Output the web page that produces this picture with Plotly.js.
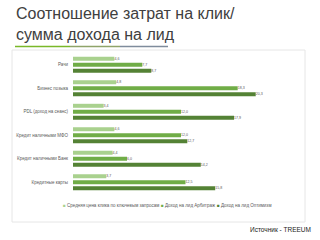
<!DOCTYPE html>
<html><head><meta charset="utf-8">
<script src="https://cdn.plot.ly/plotly-3.0.1.min.js"></script>
<style>html,body{margin:0;padding:0;background:#fff}#c{width:320px;height:240px}</style>
</head><body><div id="c"></div>
<script>
const categories = ["Рачи", "Бизнес позыка", "PDL (доход на сеанс)", "Кредит наличными МФО", "Кредит наличными Банк", "Кредитные карты"];
const seriesNames = ["Средняя цена клика по ключевым запросам", "Доход на лид Арбитраж", "Доход на лид Оптимизм"];
const avgClick = [4.6, 4.8, 3.4, 4.6, 4.4, 3.7];
const leadArb = [7.7, 18.3, 12.0, 12.0, 6.0, 12.5];
const leadOpt = [8.7, 20.3, 17.9, 12.7, 14.2, 15.8];
const colors = ["#a9d18e", "#70ad47", "#548235"];
const fmt = v => v.toFixed(1).replace('.', ',');
const series = [avgClick, leadArb, leadOpt];
const traces = series.map((vals, i) => ({
  type: 'bar', orientation: 'h', name: seriesNames[i],
  y: categories, x: vals,
  marker: {color: colors[i]},
  text: vals.map(fmt), textposition: 'outside', cliponaxis: false,
  textfont: {size: 4.5, color: '#595959', family: 'Liberation Sans'},
  hoverinfo: 'none', showlegend: false
}));
// pixel helpers for decorations
const L = 73, T = 53, W = 216, H = 141;
const px = x => (x - L) / W, py = y => (T + H - y) / H;
const shapes = [
  {type: 'rect', xref: 'paper', yref: 'paper', x0: px(12), x1: px(305), y0: py(50), y1: py(222),
   line: {color: '#e6e6e6', width: 1}, fillcolor: 'rgba(0,0,0,0)', layer: 'below'},
  {type: 'line', xref: 'paper', yref: 'paper', x0: px(15), x1: px(70), y0: py(46.5), y1: py(46.5), line: {color: '#7ab829', width: 1.5}},
  {type: 'line', xref: 'paper', yref: 'paper', x0: px(70), x1: px(120), y0: py(46.5), y1: py(46.5), line: {color: '#8fa46a', width: 1.5}},
  {type: 'line', xref: 'paper', yref: 'paper', x0: px(120), x1: px(168), y0: py(46.5), y1: py(46.5), line: {color: '#7f8c9c', width: 1.5}}
];
const legendX = [61, 159, 215];
const legendAnn = seriesNames.map((n, i) => ({
  xref: 'paper', yref: 'paper', x: px(legendX[i]), y: py(205), xanchor: 'left', yanchor: 'middle',
  showarrow: false, text: '<span style="color:' + colors[i] + '">■</span> ' + n,
  font: {size: 4.5, color: '#595959', family: 'Liberation Sans'}
}));
const layout = {
  width: 320, height: 240,
  margin: {l: L, r: 320 - L - W, t: T, b: 240 - T - H},
  paper_bgcolor: '#ffffff', plot_bgcolor: 'rgba(0,0,0,0)',
  font: {family: 'Liberation Sans', color: '#595959'},
  barmode: 'group', bargap: 0.24, bargroupgap: 0.33,
  showlegend: false,
  xaxis: {range: [0, 24], showgrid: false, zeroline: false, showticklabels: false, showline: false, fixedrange: true},
  yaxis: {autorange: 'reversed', showgrid: false, zeroline: false, showline: false, ticks: '',
    tickfont: {size: 4.5, color: '#595959'}, ticklabelstandoff: 4},
  shapes: shapes,
  annotations: [
    {xref: 'paper', yref: 'paper', x: px(14), y: py(3), xanchor: 'left', yanchor: 'top', showarrow: false,
     align: 'left', text: 'Соотношение затрат на клик/<br>сумма дохода на лид',
     font: {size: 16, color: '#404040', family: 'Liberation Sans'}},
    {xref: 'paper', yref: 'paper', x: px(313), y: py(229), xanchor: 'right', yanchor: 'middle', showarrow: false,
     text: 'Источник - TREEUM', font: {size: 6.5, color: '#222222', family: 'Liberation Sans'}}
  ].concat(legendAnn)
};
Plotly.newPlot('c', traces, layout, {staticPlot: true, displayModeBar: false});
</script></body></html>
